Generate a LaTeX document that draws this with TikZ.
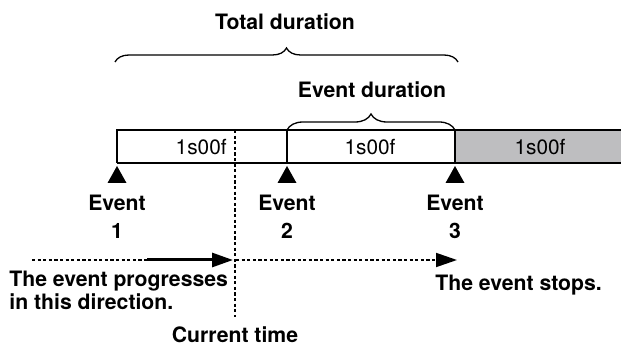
\documentclass[tikz,border=0pt]{standalone}
\usepackage{fontspec}
\setmainfont{TeX Gyre Heros}
\usetikzlibrary{arrows.meta,decorations.pathreplacing}
\definecolor{stopgray}{RGB}{190,190,192}

\begin{document}
\begin{tikzpicture}[x=0.5pt,y=-0.5pt,
  lbl/.style={font=\fontsize{10.6}{14}\selectfont\bfseries, inner sep=0pt},
  cnt/.style={font=\fontsize{10.4}{12}\selectfont, inner sep=0pt},
  dots/.style={dash pattern=on 1.6pt off 1.2pt, line width=0.9pt},
  tip/.style={-{Triangle[length=10.5pt,width=7pt]}}]

\useasboundingbox (0,0) rectangle (621,347);

\node[lbl] at (285,22) (total) {Total duration};
\node[lbl] at (372,90) (evdur) {Event duration};

% time bar
\fill[stopgray] (455,130) rectangle (621,163);
\draw[line width=0.9pt] (117,163) -- (117,130) -- (621,130) (117,163) -- (621,163);
\draw[line width=0.9pt] (287,130) -- (287,163);
\draw[line width=0.9pt] (455,130) -- (455,163);

\draw[line width=0.65pt, decorate, decoration={brace, amplitude=7pt}] (115,62) -- (458,62);
\draw[line width=0.65pt, decorate, decoration={brace, amplitude=8pt}] (287,130) -- (455,130);

\node[cnt, anchor=east] at (227,147) (len1) {1s00f};
\node[cnt] at (370,147) (len2) {1s00f};
\node[cnt] at (540,147) (len3) {1s00f};

\foreach \x/\n in {117/1, 287/2, 455/3} {
  \fill (\x,166) -- (\x+9.5,183) -- (\x-9.5,183) -- cycle;
  \node[lbl, anchor=north, align=center] at (\x,195) (ev\n) {Event\\\n};
}

% current time
\coordinate (nowtop) at (235,130);
\coordinate (nowbot) at (235,317);
\draw[dots] (nowtop) -- (nowbot);
\node[lbl] at (235,335) (now) {Current time};

% direction
\coordinate (start) at (32,260);
\coordinate (solid) at (147,260);
\coordinate (nowmid) at (233,260);
\coordinate (after) at (236,260);
\coordinate (stop) at (457,260);
\draw[dots] (start) -- (solid);
\draw[tip, line width=1.5pt] (solid) -- (nowmid);
\draw[dots, tip] (after) -- (stop);

\node[lbl, anchor=north west, align=left, font=\fontsize{10.6}{11.4}\selectfont\bfseries] at (9,271) (prog) {The event progresses\\in this direction.};
\node[lbl, anchor=west] at (435,285) (stops) {The event stops.};

\end{tikzpicture}
\end{document}
